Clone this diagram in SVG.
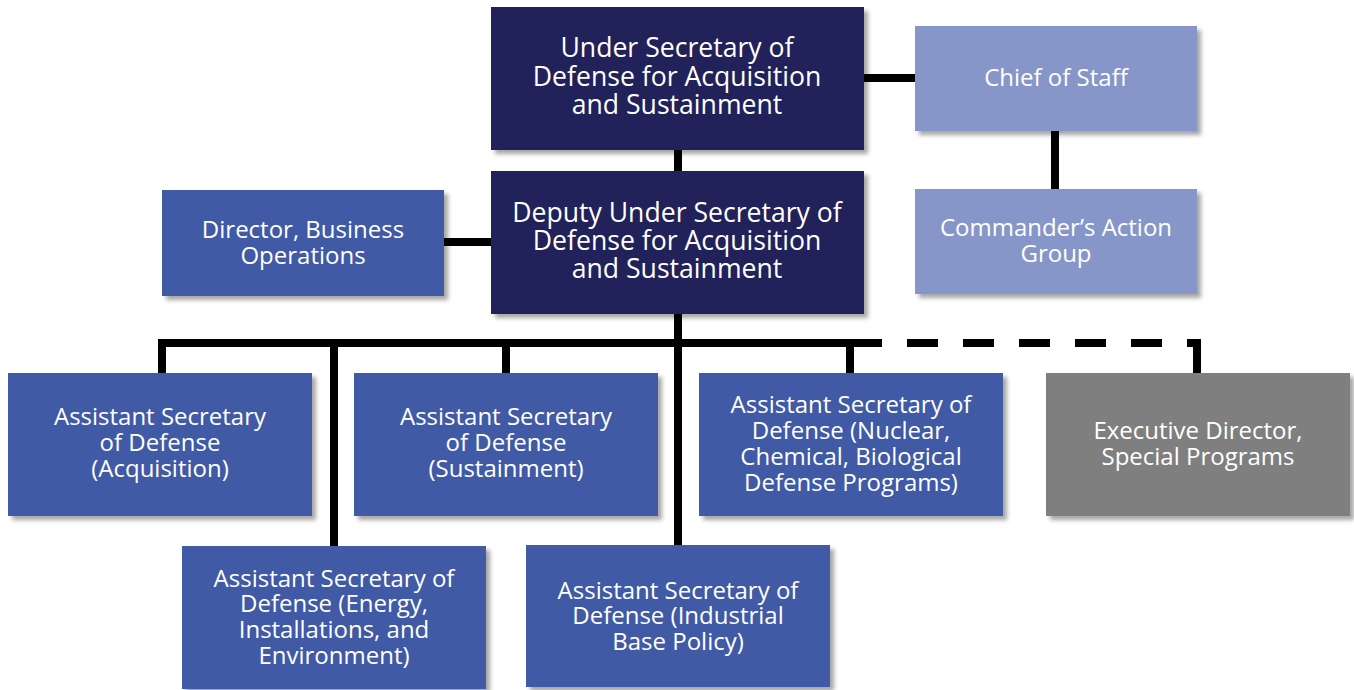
<svg xmlns="http://www.w3.org/2000/svg" width="1354" height="690" viewBox="0 0 1354 690">
<defs>
<filter id="sh" x="-10%" y="-10%" width="130%" height="130%">
<feDropShadow dx="4" dy="4" stdDeviation="2" flood-color="#000" flood-opacity="0.35"/>
</filter>
<style>
.box{filter:url(#sh)}
.navy{fill:#24205a}
.blue{fill:#3f5aa6}
.light{fill:#8796c8}
.gray{fill:#7f7f7f}
text{font-family:"Open Sans","Noto Sans",sans-serif;fill:#fff;text-anchor:middle}
.big{font-size:26.6px}
.sm{font-size:24px}
.ln{stroke:#000;stroke-width:8;fill:none}
.dash{stroke:#000;stroke-width:8;fill:none;stroke-dasharray:31 25}
</style>
</defs>
<rect width="1354" height="690" fill="#fff"/>
<g id="connectors">
<path class="ln" d="M678 150V171"/>
<path class="ln" d="M864 78H915"/>
<path class="ln" d="M1055 131V189"/>
<path class="ln" d="M444 242H491"/>
<path class="ln" d="M678 314V545"/>
<path class="ln" d="M162 373V343H882"/>
<path class="ln" d="M334 343V546"/>
<path class="ln" d="M506 343V373"/>
<path class="ln" d="M850 343V373"/>
<path class="dash" d="M907 343H1187"/>
<path class="ln" d="M1187 343H1197V373"/>
</g>
<g id="usd"><rect class="box navy" x="491" y="7" width="373" height="143"/>
<text class="big"><tspan x="677" y="57">Under Secretary of</tspan><tspan x="677" y="86">Defense for Acquisition</tspan><tspan x="677" y="114">and Sustainment</tspan></text></g>
<g id="dusd"><rect class="box navy" x="491" y="171" width="373" height="143"/>
<text class="big"><tspan x="677" y="222">Deputy Under Secretary of</tspan><tspan x="677" y="250">Defense for Acquisition</tspan><tspan x="677" y="278">and Sustainment</tspan></text></g>
<g id="cos"><rect class="box light" x="915" y="26" width="282" height="105"/>
<text class="sm"><tspan x="1056" y="86">Chief of Staff</tspan></text></g>
<g id="cag"><rect class="box light" x="915" y="189" width="282" height="105"/>
<text class="sm"><tspan x="1056" y="236">Commander’s Action</tspan><tspan x="1056" y="262">Group</tspan></text></g>
<g id="dbo"><rect class="box blue" x="162" y="190" width="282" height="106"/>
<text class="sm"><tspan x="303" y="238">Director, Business</tspan><tspan x="303" y="264">Operations</tspan></text></g>
<g id="asd-acq"><rect class="box blue" x="8" y="373" width="304" height="143"/>
<text class="sm"><tspan x="160" y="425">Assistant Secretary</tspan><tspan x="160" y="451">of Defense</tspan><tspan x="160" y="477">(Acquisition)</tspan></text></g>
<g id="asd-sus"><rect class="box blue" x="354" y="373" width="304" height="143"/>
<text class="sm"><tspan x="506" y="425">Assistant Secretary</tspan><tspan x="506" y="451">of Defense</tspan><tspan x="506" y="477">(Sustainment)</tspan></text></g>
<g id="asd-ncb"><rect class="box blue" x="699" y="373" width="304" height="143"/>
<text class="sm"><tspan x="851" y="413">Assistant Secretary of</tspan><tspan x="851" y="439">Defense (Nuclear,</tspan><tspan x="851" y="465">Chemical, Biological</tspan><tspan x="851" y="491">Defense Programs)</tspan></text></g>
<g id="exec"><rect class="box gray" x="1046" y="373" width="304" height="143"/>
<text class="sm"><tspan x="1198" y="439">Executive Director,</tspan><tspan x="1198" y="465">Special Programs</tspan></text></g>
<g id="asd-eie"><rect class="box blue" x="182" y="546" width="304" height="143"/>
<text class="sm"><tspan x="334" y="587">Assistant Secretary of</tspan><tspan x="334" y="612">Defense (Energy,</tspan><tspan x="334" y="638">Installations, and</tspan><tspan x="334" y="664">Environment)</tspan></text></g>
<g id="asd-ibp"><rect class="box blue" x="526" y="545" width="304" height="142"/>
<text class="sm"><tspan x="678" y="599">Assistant Secretary of</tspan><tspan x="678" y="624">Defense (Industrial</tspan><tspan x="678" y="650">Base Policy)</tspan></text></g>
</svg>
